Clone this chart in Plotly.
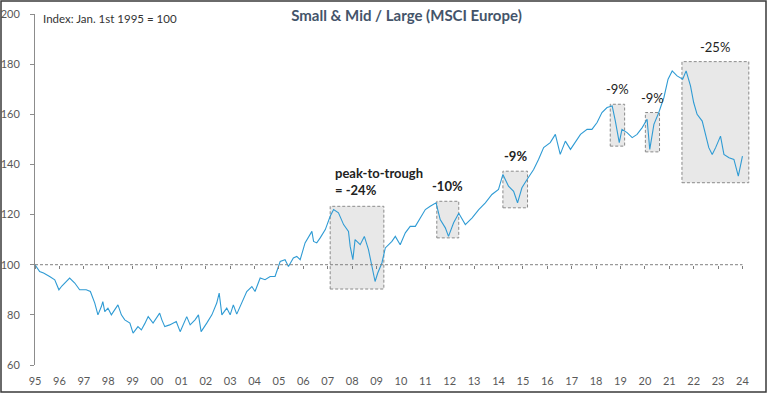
import plotly.graph_objects as go

# ---- data (decimal year, index level) ----
years = [1995.00, 1995.11, 1995.19, 1995.35, 1995.45, 1995.60, 1995.81, 1995.98,
         1996.10, 1996.22, 1996.42, 1996.63, 1996.83, 1997.10, 1997.27, 1997.45,
         1997.58, 1997.72, 1997.78, 1997.86, 1997.99, 1998.13, 1998.26, 1998.40,
         1998.54, 1998.68, 1998.89, 1999.02, 1999.22, 1999.36, 1999.50, 1999.64,
         1999.84, 2000.11, 2000.20, 2000.32, 2000.52, 2000.79, 2000.95, 2001.22,
         2001.36, 2001.56, 2001.70, 2001.81, 2002.04, 2002.25, 2002.45, 2002.55,
         2002.66, 2002.86, 2003.00, 2003.13, 2003.27, 2003.48, 2003.68, 2003.89,
         2004.02, 2004.23, 2004.43, 2004.64, 2004.84, 2005.05, 2005.25, 2005.39,
         2005.59, 2005.73, 2005.87, 2006.07, 2006.35, 2006.42, 2006.55, 2006.69,
         2006.90, 2007.10, 2007.24, 2007.44, 2007.65, 2007.85, 2007.92, 2008.03,
         2008.12, 2008.33, 2008.50, 2008.67, 2008.81, 2008.94, 2009.05, 2009.22,
         2009.36, 2009.63, 2009.77, 2009.97, 2010.18, 2010.38, 2010.59, 2010.79,
         2011.00, 2011.20, 2011.44, 2011.61, 2011.82, 2011.95, 2012.16, 2012.37,
         2012.64, 2012.92, 2013.19, 2013.46, 2013.73, 2014.00, 2014.18, 2014.41,
         2014.62, 2014.78, 2014.96, 2015.17, 2015.44, 2015.64, 2015.85, 2016.12,
         2016.33, 2016.53, 2016.74, 2016.95, 2017.15, 2017.36, 2017.63, 2017.83,
         2018.04, 2018.24, 2018.45, 2018.66, 2018.79, 2018.95, 2019.06, 2019.27,
         2019.48, 2019.68, 2019.89, 2020.09, 2020.20, 2020.37, 2020.57, 2020.78,
         2020.95, 2021.12, 2021.32, 2021.55, 2021.69, 2021.87, 2022.00, 2022.14,
         2022.35, 2022.48, 2022.62, 2022.76, 2022.90, 2023.10, 2023.24, 2023.45,
         2023.65, 2023.83, 2024.00]
values = [100.0, 98.7, 97.3, 96.7, 96.0, 95.3, 94.0, 90.0,
          91.5, 92.7, 94.7, 92.7, 90.0, 90.0, 89.3, 84.7,
          80.0, 83.3, 85.3, 81.3, 82.7, 80.0, 82.0, 84.0,
          80.0, 78.0, 76.7, 72.7, 75.3, 74.0, 76.5, 79.3,
          76.7, 80.7, 78.0, 75.3, 76.0, 77.3, 73.3, 79.3,
          76.0, 78.0, 80.0, 73.3, 76.7, 80.0, 84.7, 88.7,
          80.0, 82.7, 80.0, 84.0, 80.3, 85.3, 89.3, 91.3,
          89.3, 94.7, 94.0, 95.3, 95.3, 101.3, 102.0, 99.3,
          102.7, 103.3, 102.0, 108.7, 113.3, 109.3, 108.7, 110.7,
          114.0, 119.3, 122.0, 120.7, 116.0, 113.3, 107.3, 102.0,
          110.0, 108.0, 111.3, 106.0, 99.3, 93.3, 96.7, 100.7,
          106.7, 109.3, 111.3, 108.0, 112.7, 115.3, 115.3, 118.7,
          122.0, 123.3, 124.7, 118.0, 114.7, 111.3, 116.7, 120.5,
          116.0, 118.7, 122.0, 124.7, 128.0, 130.0, 136.0, 131.3,
          129.3, 124.7, 130.7, 134.0, 138.0, 142.0, 146.7, 148.7,
          152.0, 144.0, 149.3, 146.0, 148.7, 152.0, 154.0, 154.0,
          156.7, 160.7, 162.7, 163.3, 157.3, 148.7, 154.0, 152.7,
          150.7, 152.0, 154.7, 158.0, 146.0, 156.0, 160.7, 166.7,
          174.0, 177.3, 175.3, 174.0, 177.3, 171.3, 164.7, 160.0,
          157.3, 152.0, 146.7, 144.0, 146.7, 151.3, 144.0, 142.7,
          142.0, 135.3, 143.3]

tick_years = list(range(1995, 2025))
tick_labels = [f"{y % 100:02d}" for y in tick_years]
base_level = 100

# drawdown boxes
box_x0 = [2007.10, 2011.47, 2014.18, 2018.58, 2020.02, 2021.52]
box_x1 = [2009.30, 2012.37, 2015.19, 2019.17, 2020.60, 2024.26]
box_y0 = [90.3, 110.7, 122.7, 147.3, 145.0, 132.7]
box_y1 = [123.3, 125.3, 137.3, 164.0, 160.7, 181.0]
box_labels = ["peak-to-trough<br>= -24%", "-10%", "-9%", "-9%", "-9%", "-25%"]

FONT = "Lato"
L, R, T, B = 35, 17, 14, 29
W, H = 768, 394
pw, ph = W - L - R, H - T - B

fig = go.Figure()

# dashed 100 reference line (on overlaid axis that carries the ticks)
fig.add_trace(go.Scatter(x=[tick_years[0], tick_years[-1]], y=[base_level, base_level],
                         mode="lines", xaxis="x2", yaxis="y",
                         line=dict(color="#808080", width=1, dash="3px,2px"),
                         hoverinfo="skip", showlegend=False))

fig.add_trace(go.Scatter(x=years, y=values, mode="lines",
                         line=dict(color="#2f9bd4", width=1.1),
                         showlegend=False))

for i in range(len(box_x0)):
    fig.add_shape(type="rect", xref="x", yref="y",
                  x0=box_x0[i], x1=box_x1[i], y0=box_y0[i], y1=box_y1[i],
                  fillcolor="#e8e8e8", layer="below",
                  line=dict(color="#8a8a8a", width=1, dash="3px,2px"))

# labels
bold = [True, True, True, False, False, False]
for i, lab in enumerate(box_labels):
    if i == 0:
        fig.add_annotation(x=box_x0[i], y=box_y1[i], xref="x", yref="y",
                           text=lab, showarrow=False, xanchor="left", yanchor="bottom",
                           align="left", xshift=3, yshift=6,
                           font=dict(family=FONT, size=13, color="#222222", weight="bold"))
    else:
        fig.add_annotation(x=(box_x0[i] + box_x1[i]) / 2, y=box_y1[i], xref="x", yref="y",
                           text=lab, showarrow=False, xanchor="center", yanchor="bottom",
                           yshift=5,
                           font=dict(family=FONT, size=13, color="#222222",
                                     weight="bold" if bold[i] else "normal"))

fig.add_annotation(text="Index: Jan. 1st 1995 = 100", xref="paper", yref="paper",
                   x=6 / pw, y=1 - 4 / ph, xanchor="left", yanchor="middle",
                   showarrow=False, font=dict(family=FONT, size=11.5, color="#333333"))

# outer frame
fig.add_shape(type="rect", xref="paper", yref="paper",
              x0=-(L - 1) / pw, x1=(W - L - 2) / pw,
              y0=-(B - 2) / ph, y1=(ph + T - 1) / ph,
              line=dict(color="#3a3a3a", width=1.5), fillcolor="rgba(0,0,0,0)", layer="above")

fig.update_layout(
    width=W, height=H,
    margin=dict(l=L, r=R, t=T, b=B, pad=0, autoexpand=False),
    paper_bgcolor="white", plot_bgcolor="white",
    title=dict(text="<b>Small & Mid / Large (MSCI Europe)</b>",
               x=(406.5 - L) / pw, xref="paper", xanchor="center",
               y=1 - 16 / H, yref="container", yanchor="middle",
               font=dict(family=FONT, size=15, color="#44546a")),
    xaxis=dict(range=[1995, 2024.35], tickvals=tick_years, ticktext=tick_labels,
               showgrid=False, zeroline=False, showline=False, ticks="",
               tickfont=dict(family=FONT, size=11, color="#595959"),
               ticklabelstandoff=8, fixedrange=True, automargin=False),
    xaxis2=dict(overlaying="x", matches="x", anchor="free",
                position=(base_level - 60) / 140, side="bottom",
                tickvals=tick_years, showticklabels=False, ticks="outside",
                ticklen=3, tickcolor="#808080", tickwidth=1,
                showgrid=False, zeroline=False, showline=False, automargin=False),
    yaxis=dict(range=[60, 200], tickvals=[60, 80, 100, 120, 140, 160, 180, 200],
               showgrid=False, zeroline=False, showline=True, linecolor="#8c8c8c",
               linewidth=1, ticks="outside", ticklen=4, tickcolor="#8c8c8c",
               tickfont=dict(family=FONT, size=11, color="#595959"),
               ticklabelstandoff=8, automargin=False),
    showlegend=False,
)

fig.write_html("out.html", config={"displayModeBar": False},
               post_script="document.body.style.margin='0';document.body.style.padding='0';")
